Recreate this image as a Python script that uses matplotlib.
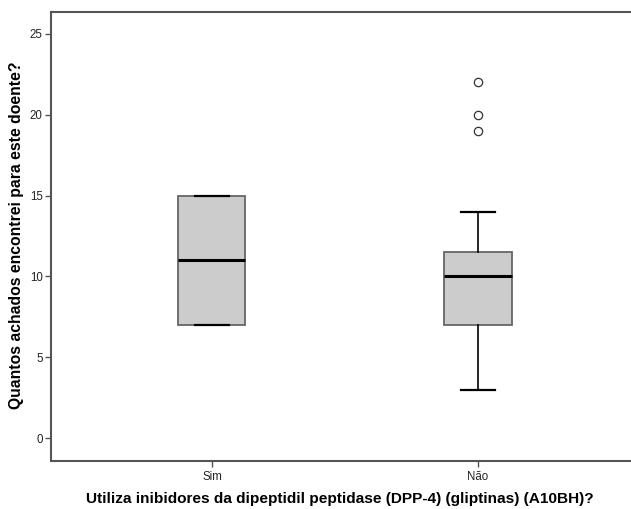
import matplotlib
matplotlib.use("Agg")
import matplotlib.pyplot as plt

# DATA
categories = ["Sim", "Não"]
medians = [11, 10]
q1 = [7, 7]
q3 = [15, 11.5]
whisker_low = [7, 3]
whisker_high = [15, 14]
outliers = [[], [19, 20, 22]]
y_ticks = [0, 5, 10, 15, 20, 25]

plt.rcParams["font.family"] = ["Liberation Sans", "DejaVu Sans"]

fig = plt.figure(figsize=(6.31, 5.09), dpi=100)
W, H = 631, 509
# axes frame runs past the right edge of the picture
ax = fig.add_axes([51 / W, 48 / H, (W - 51) / W, 449 / H])

stats = []
for i, name in enumerate(categories):
    stats.append({
        "label": name,
        "med": medians[i],
        "q1": q1[i],
        "q3": q3[i],
        "whislo": whisker_low[i],
        "whishi": whisker_high[i],
        "fliers": outliers[i],
    })

ax.bxp(
    stats,
    positions=range(len(categories)),
    widths=0.252,
    patch_artist=True,
    showfliers=True,
    boxprops=dict(facecolor="#cccccc", edgecolor="#666666", linewidth=1.3),
    medianprops=dict(color="black", linewidth=2.2),
    whiskerprops=dict(color="black", linewidth=1.2),
    capprops=dict(color="black", linewidth=1.6),
    capwidths=0.126,
    flierprops=dict(marker="o", markerfacecolor="white", markeredgecolor="#333333",
                    markersize=6, markeredgewidth=0.9),
)

ax.set_xlim(-0.605, 1.575)
ax.set_ylim(-1.42, 26.36)
ax.set_yticks(y_ticks)
ax.set_xticks(range(len(categories)))
ax.set_xticklabels(categories)

for side in ["left", "bottom", "top"]:
    ax.spines[side].set_color("#555555")
    ax.spines[side].set_linewidth(1.5)
ax.spines["right"].set_visible(False)
ax.tick_params(axis="both", colors="#555555", labelcolor="#222222",
               labelsize=8.3, length=4, width=1, direction="out")
ax.tick_params(axis="y", pad=2)

fig.text(340 / W, 1 - 503 / H,
         "Utiliza inibidores da dipeptidil peptidase (DPP-4) (gliptinas) (A10BH)?",
         ha="center", va="baseline", fontsize=11.1, fontweight="bold")
fig.text(17 / W, 1 - 235 / H, "Quantos achados encontrei para este doente?",
         ha="center", va="center", rotation=90, fontsize=11.3, fontweight="bold")

fig.savefig("out.png", dpi=100)
